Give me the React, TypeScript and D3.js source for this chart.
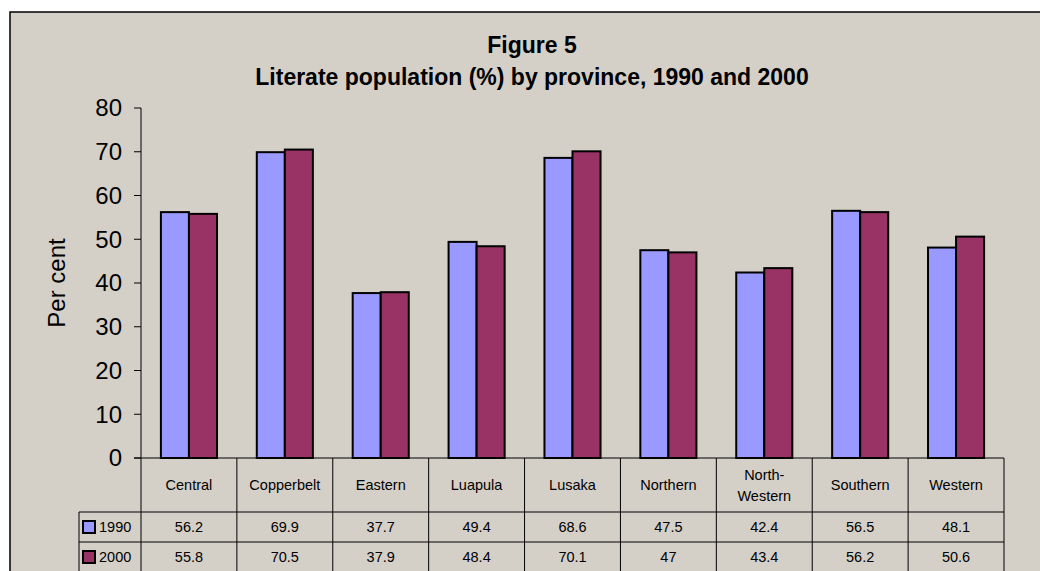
import React from 'react';
import * as d3 from 'd3';

const provinces = ['Central', 'Copperbelt', 'Eastern', 'Luapula', 'Lusaka', 'Northern', 'North-Western', 'Southern', 'Western'];
const provinceLines = [['Central'], ['Copperbelt'], ['Eastern'], ['Luapula'], ['Lusaka'], ['Northern'], ['North-', 'Western'], ['Southern'], ['Western']];
const years = ['1990', '2000'];
const values1990 = [56.2, 69.9, 37.7, 49.4, 68.6, 47.5, 42.4, 56.5, 48.1];
const values2000 = [55.8, 70.5, 37.9, 48.4, 70.1, 47, 43.4, 56.2, 50.6];
const yTicks = [0, 10, 20, 30, 40, 50, 60, 70, 80];
const seriesColors = ['#9999ff', '#993366'];

const W = 1040;
const H = 571;
const bg = '#d4d0c8';
const font = 'Arial, "Liberation Sans", sans-serif';

const App = () => {
  const series = [values1990, values2000];

  const x = d3.scaleBand<string>()
    .domain(provinces)
    .range([141, 1004])
    .padding(0);

  const xSub = d3.scaleBand<string>()
    .domain(years)
    .range([0, x.bandwidth()])
    .paddingInner(0)
    .paddingOuter(0.71);

  const y = d3.scaleLinear()
    .domain([0, 80])
    .range([458, 108]);

  // table rows under the axis
  const headerBottom = 512;
  const rowH = 30;
  const rowTops = [headerBottom, headerBottom + rowH];
  const tableLeft = 79;
  const left = x.range()[0];
  const right = x.range()[1];

  return (
    <svg width={W} height={H} style={{ position: 'absolute', left: 0, top: 0 }} fontFamily={font}>
      <rect x={0} y={0} width={W} height={H} fill="#fff" />
      <rect x={10} y={12} width={W} height={H} fill={bg} stroke="#000" strokeWidth={1.5} />

      <text x={532} y={53} textAnchor="middle" fontSize={23} fontWeight="bold">Figure 5</text>
      <text x={532} y={85} textAnchor="middle" fontSize={23} fontWeight="bold">
        Literate population (%) by province, 1990 and 2000
      </text>

      <text transform={`translate(65,${(y(0) + y(80)) / 2}) rotate(-90)`} textAnchor="middle" fontSize={24}>
        Per cent
      </text>

      {/* y axis */}
      <line x1={left} x2={left} y1={y(80)} y2={y(0)} stroke="#000" strokeWidth={1} />
      {yTicks.map(t => (
        <g key={t}>
          <line x1={left - 7} x2={left} y1={y(t)} y2={y(t)} stroke="#000" strokeWidth={1} />
          <text x={122} y={y(t)} dy="0.35em" textAnchor="end" fontSize={24}>{t}</text>
        </g>
      ))}

      {/* bars */}
      {series.map((vals, si) => (
        <g key={years[si]} fill={seriesColors[si]} stroke="#000" strokeWidth={2}>
          {provinces.map((p, i) => (
            <rect
              key={p}
              x={(x(p) as number) + (xSub(years[si]) as number)}
              y={y(vals[i])}
              width={xSub.bandwidth()}
              height={y(0) - y(vals[i])}
            />
          ))}
        </g>
      ))}

      {/* data table */}
      <g stroke="#000" strokeWidth={1}>
        <line x1={left - 7} x2={right} y1={y(0)} y2={y(0)} />
        {rowTops.map(r => (
          <line key={r} x1={tableLeft} x2={right} y1={r} y2={r} />
        ))}
        <line x1={tableLeft} x2={tableLeft} y1={headerBottom} y2={H} />
        {provinces.map(p => (
          <line key={p} x1={x(p) as number} x2={x(p) as number} y1={y(0)} y2={H} />
        ))}
        <line x1={right} x2={right} y1={y(0)} y2={H} />
      </g>

      {provinces.map((p, i) => {
        const cx = (x(p) as number) + x.bandwidth() / 2;
        const lines = provinceLines[i];
        const midY = (y(0) + headerBottom) / 2;
        return (
          <text key={p} x={cx} textAnchor="middle" fontSize={14.5}>
            {lines.map((l, li) => (
              <tspan key={l} x={cx} y={midY + (li - (lines.length - 1) / 2) * 21} dy="0.35em">{l}</tspan>
            ))}
          </text>
        );
      })}

      {series.map((vals, si) => (
        <g key={years[si]}>
          <rect x={83} y={rowTops[si] + rowH / 2 - 6} width={12} height={12}
            fill={seriesColors[si]} stroke="#000" strokeWidth={2} />
          <text x={99} y={rowTops[si] + rowH / 2} dy="0.35em" fontSize={14.5}>{years[si]}</text>
          {provinces.map((p, i) => (
            <text key={p} x={(x(p) as number) + x.bandwidth() / 2} y={rowTops[si] + rowH / 2}
              dy="0.35em" textAnchor="middle" fontSize={14.5}>
              {vals[i]}
            </text>
          ))}
        </g>
      ))}
    </svg>
  );
};

export default App;
